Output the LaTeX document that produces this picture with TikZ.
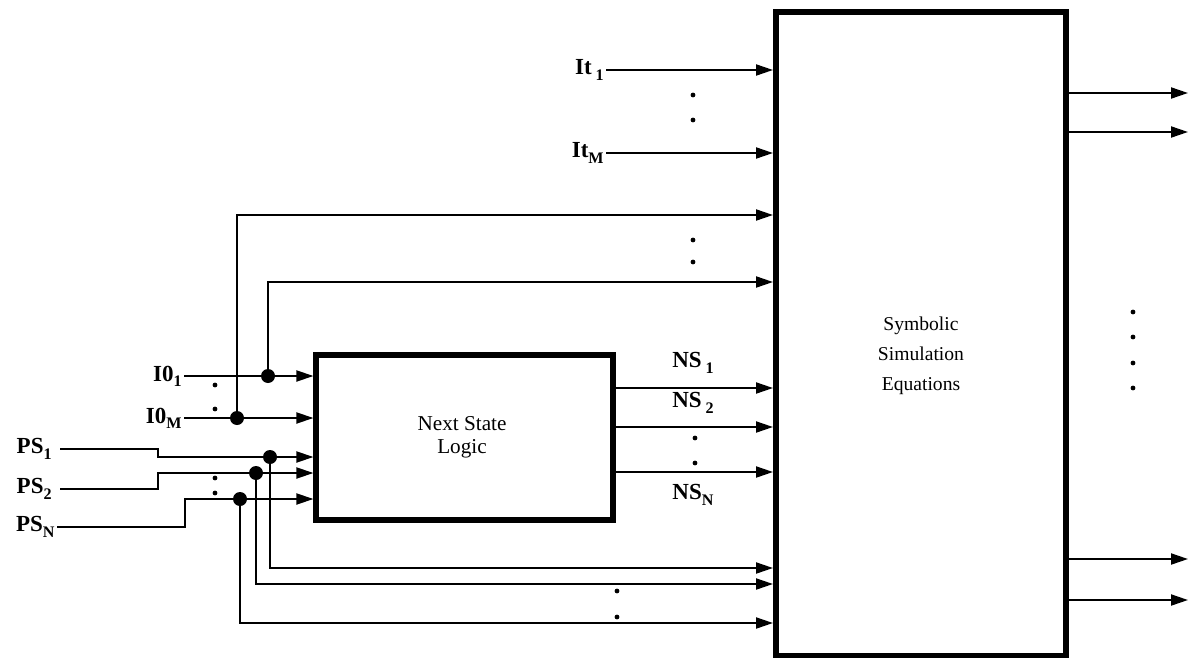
\documentclass[tikz,border=0pt]{standalone}
\usepackage{fontspec}
\setmainfont{Liberation Serif}
\usetikzlibrary{arrows.meta}
\newcommand{\lsub}[1]{\raisebox{-0.5ex}{\scalebox{0.7}{#1}}}
\begin{document}
\begin{tikzpicture}[x=0.5pt,y=-0.5pt,
  wire/.style={line width=1pt},
  arr/.style={wire,-{Triangle[length=8.5pt,width=5.5pt]}},
  bigbox/.style={draw,line width=3pt,minimum width=145pt,minimum height=322pt,inner sep=0pt},
  nsbox/.style={draw,line width=2.6pt,minimum width=148.5pt,minimum height=82.5pt,inner sep=0pt},
  lbl/.style={font=\fontsize{11.5}{13}\selectfont\bfseries,inner sep=1pt},
  slbl/.style={font=\fontsize{11.5}{13}\selectfont\bfseries,inner sep=1pt},
  boxtxt/.style={font=\fontsize{9.8}{15}\selectfont,align=center,inner sep=0pt},
  nstxt/.style={font=\fontsize{10.6}{11.5}\selectfont,align=center,inner sep=0pt},
  jdot/.style={circle,fill,inner sep=0pt,minimum size=7pt},
  sdot/.style={circle,fill,inner sep=0pt,minimum size=2.4pt},
]
\useasboundingbox (0,0) rectangle (1188,658);

% boxes
\node[bigbox] (sse) at (921,334) {};
\node[boxtxt] (sset) at (921,356) {Symbolic\\Simulation\\Equations};
\node[nsbox] (nsl) at (464.5,437.5) {};
\node[nstxt] (nslt) at (462,437) {Next State\\Logic};

% It inputs
\node[lbl,anchor=east] (it1) at (606,70) {It\,\lsub{1}};
\node[lbl,anchor=east] (itm) at (606,153) {It\lsub{M}};
\draw[arr] (it1.east) -- (it1.east -| sse.west);
\draw[arr] (itm.east) -- (itm.east -| sse.west);
\node[sdot] (d1) at (693,95) {};
\node[sdot] (d2) at (693,120) {};

% I0 inputs
\node[slbl,anchor=east] (i01) at (184,376) {I0\lsub{1}};
\node[slbl,anchor=east] (i0m) at (184,418) {I0\lsub{M}};
\node[jdot] (ja) at (268,376) {};
\node[jdot] (jb) at (237,418) {};
\draw[arr] (i01.east) -- (i01.east -| nsl.west);
\draw[arr] (i0m.east) -- (i0m.east -| nsl.west);
\coordinate (ca) at (268,282);
\coordinate (cb) at (237,215);
\draw[arr] (ja.center) -- (ca) -- (ca -| sse.west);
\draw[arr] (jb.center) -- (cb) -- (cb -| sse.west);
\node[sdot] (d3) at (215,385) {};
\node[sdot] (d4) at (215,409) {};
\node[sdot] (d5) at (693,240) {};
\node[sdot] (d6) at (693,262) {};

% PS inputs
\node[lbl,anchor=east] (ps1) at (54,449) {PS\lsub{1}};
\node[lbl,anchor=east] (ps2) at (54,489) {PS\lsub{2}};
\node[lbl,anchor=east] (psn) at (57,527) {PS\lsub{N}};
\node[jdot] (jp1) at (270,457) {};
\node[jdot] (jp2) at (256,473) {};
\node[jdot] (jpn) at (240,499) {};
\coordinate (s1) at (60,449);
\coordinate (s2) at (60,489);
\draw[arr] (s1) -- (158,449) |- (jp1.center) -- (jp1 -| nsl.west);
\draw[arr] (s2) -- (158,489) |- (jp2.center) -- (jp2 -| nsl.west);
\draw[arr] (psn.east) -- (185,527) |- (jpn.center) -- (jpn -| nsl.west);
\node[sdot] (d7) at (215,478) {};
\node[sdot] (d8) at (215,493) {};
\coordinate (b1) at (270,568);
\coordinate (b2) at (256,584);
\coordinate (bn) at (240,623);
\draw[arr] (jp1.center) -- (b1) -- (b1 -| sse.west);
\draw[arr] (jp2.center) -- (b2) -- (b2 -| sse.west);
\draw[arr] (jpn.center) -- (bn) -- (bn -| sse.west);
\node[sdot] (d9) at (617,591) {};
\node[sdot] (d10) at (617,617) {};

% NS outputs
\node[lbl] (ns1) at (693,363) {NS\,\lsub{1}};
\node[lbl] (ns2) at (693,403) {NS\,\lsub{2}};
\node[lbl] (nsn) at (693,495) {NS\lsub{N}};
\coordinate (n1) at (613,388);
\coordinate (n2) at (613,427);
\coordinate (nn) at (613,472);
\draw[arr] (n1) -- (n1 -| sse.west);
\draw[arr] (n2) -- (n2 -| sse.west);
\draw[arr] (nn) -- (nn -| sse.west);
\node[sdot] (d11) at (695,438) {};
\node[sdot] (d12) at (695,463) {};

% outputs
\coordinate (o1) at (1188,93);
\coordinate (o2) at (1188,132);
\coordinate (o3) at (1188,559);
\coordinate (o4) at (1188,600);
\draw[arr] (o1 -| sse.east) -- (o1);
\draw[arr] (o2 -| sse.east) -- (o2);
\draw[arr] (o3 -| sse.east) -- (o3);
\draw[arr] (o4 -| sse.east) -- (o4);
\node[sdot] (r1) at (1133,312) {};
\node[sdot] (r2) at (1133,337) {};
\node[sdot] (r3) at (1133,363) {};
\node[sdot] (r4) at (1133,388) {};
\end{tikzpicture}
\end{document}
